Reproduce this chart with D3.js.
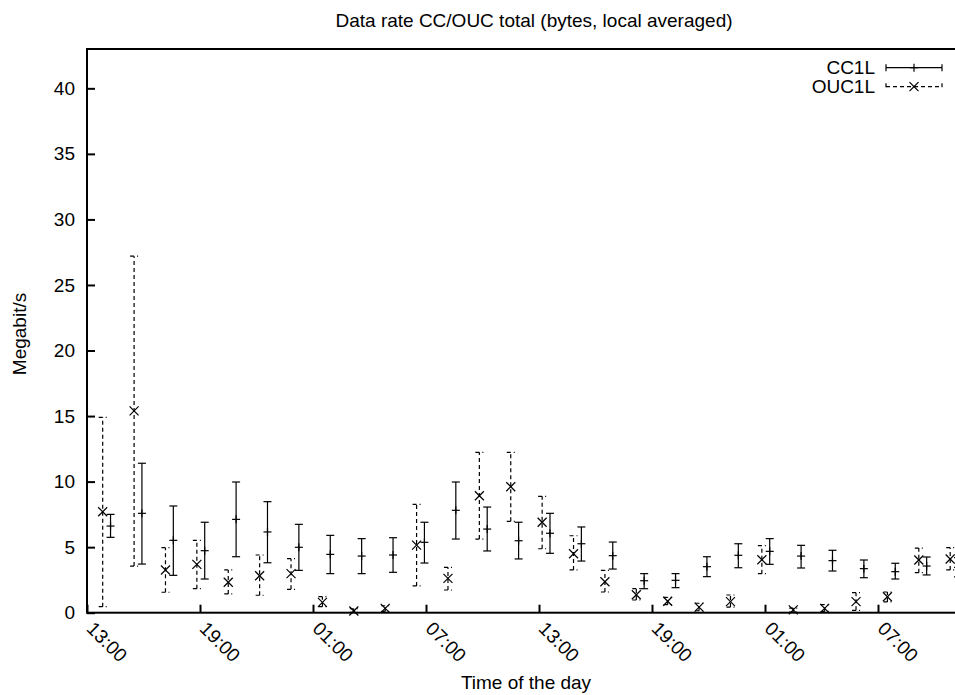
<!DOCTYPE html>
<html>
<head>
<meta charset="utf-8">
<script src="https://cdn.jsdelivr.net/npm/d3@7"></script>
<style>
  html, body { margin: 0; padding: 0; background: #fff; }
  svg { display: block; overflow: hidden; }
  text { font-family: "Liberation Sans", Arial, Helvetica, sans-serif; fill: #000; }
</style>
</head>
<body>
<svg id="chart" width="955" height="695"></svg>
<script>
// time stamps ("day hh:mm") of the samples
var oucTimes = ["01 13:50", "01 15:30", "01 17:10", "01 18:50", "01 20:30", "01 22:10", "01 23:50",
                "02 01:30", "02 03:10", "02 04:50", "02 06:30", "02 08:10", "02 09:50", "02 11:30",
                "02 13:10", "02 14:50", "02 16:30", "02 18:10", "02 19:50", "02 21:30", "02 23:10",
                "03 00:50", "03 02:30", "03 04:10", "03 05:50", "03 07:30", "03 09:10", "03 10:50"];
var ccTimes = ["01 14:15", "01 15:55", "01 17:35", "01 19:15", "01 20:55", "01 22:35", "02 00:15",
               "02 01:55", "02 03:35", "02 05:15", "02 06:55", "02 08:35", "02 10:15", "02 11:55",
               "02 13:35", "02 15:15", "02 16:55", "02 18:35", "02 20:15", "02 21:55", "02 23:35",
               "03 01:15", "03 02:55", "03 04:35", "03 06:15", "03 07:55", "03 09:35", "03 11:15"];

// OUC1L: mean, low, high (Megabit/s)
var oucMean = [7.70, 15.39, 3.26, 3.69, 2.32, 2.82, 2.98, 0.79, 0.13, 0.33, 5.16, 2.62, 8.92, 9.61,
               6.90, 4.50, 2.36, 1.37, 0.87, 0.43, 0.84, 4.04, 0.21, 0.33, 0.84, 1.22, 4.02, 4.10];
var oucLow  = [0.46, 3.56, 1.56, 1.83, 1.43, 1.33, 1.78, 0.46, 0.02, 0.10, 2.04, 1.73, 5.62, 6.97,
               4.88, 3.26, 1.58, 0.97, 0.61, 0.15, 0.43, 2.98, 0.05, 0.10, 0.18, 0.82, 3.05, 3.26];
var oucHigh = [14.9, 27.2, 4.96, 5.52, 3.26, 4.40, 4.12, 1.22, 0.30, 0.53, 8.27, 3.46, 12.23, 12.23,
               8.88, 5.87, 3.23, 1.83, 1.17, 0.72, 1.35, 5.11, 0.35, 0.61, 1.53, 1.58, 4.93, 4.96];

// CC1L: mean, low, high (Megabit/s)
var ccMean = [6.61, 7.58, 5.52, 4.73, 7.12, 6.16, 4.99, 4.45, 4.32, 4.40, 5.37, 7.81, 6.38, 5.49,
              6.06, 5.26, 4.35, 2.44, 2.47, 3.51, 4.38, 4.68, 4.32, 3.97, 3.36, 3.13, 3.56, 3.45];
var ccLow  = [5.75, 3.71, 2.85, 2.57, 4.27, 3.81, 3.23, 2.98, 2.98, 3.08, 3.79, 5.62, 4.71, 4.10,
              4.53, 3.94, 3.33, 1.83, 1.91, 2.75, 3.43, 3.69, 3.41, 3.18, 2.67, 2.57, 2.88, 2.73];
var ccHigh = [7.50, 11.4, 8.14, 6.90, 9.97, 8.47, 6.74, 5.90, 5.65, 5.72, 6.90, 9.97, 8.06, 6.90,
              7.58, 6.54, 5.39, 2.98, 2.98, 4.27, 5.26, 5.65, 5.14, 4.76, 4.02, 3.77, 4.25, 4.20];

var xTicks = ["01 13:00", "01 19:00", "02 01:00", "02 07:00", "02 13:00", "02 19:00", "03 01:00", "03 07:00"];
var xDomain = ["01 13:00", "03 13:00"];
var yTicks = [0, 5, 10, 15, 20, 25, 30, 35, 40];
var yMax = 43;

var parseT = d3.timeParse("%d %H:%M");

function series(times, mean, low, high) {
    var out = [];
    for (var i = 0; i < times.length; i++) {
        out.push({ t: parseT(times[i]), v: mean[i], lo: low[i], hi: high[i] });
    }
    return out;
}
var cc = series(ccTimes, ccMean, ccLow, ccHigh);
var ouc = series(oucTimes, oucMean, oucLow, oucHigh);

// Plot frame (the right part runs past the window, like the original)
var plotL = 87, plotT = 49, plotR = 991, plotB = 612.7;
var svg = d3.select("#chart");

var x = d3.scaleTime().domain(xDomain.map(parseT)).range([plotL, plotR]);
var y = d3.scaleLinear().domain([0, yMax]).range([plotB, plotT]);

// border
svg.append("rect")
    .attr("x", plotL).attr("y", plotT)
    .attr("width", plotR - plotL).attr("height", plotB - plotT)
    .attr("fill", "none").attr("stroke", "#000").attr("stroke-width", 2);

// Y axis (ticks inside)
var yAxis = svg.append("g")
    .attr("transform", "translate(" + plotL + ",0)")
    .call(d3.axisLeft(y).tickValues(yTicks).tickSizeInner(-8).tickSizeOuter(0).tickPadding(12));
yAxis.select(".domain").remove();
yAxis.selectAll(".tick line").attr("stroke", "#000").attr("stroke-width", 2);
yAxis.selectAll(".tick text").style("font-size", "19px").attr("font-family", null);

// X axis (ticks inside, labels rotated)
var xAxis = svg.append("g")
    .attr("transform", "translate(0," + plotB + ")")
    .call(d3.axisBottom(x).tickValues(xTicks.map(parseT)).tickFormat(d3.timeFormat("%H:%M"))
        .tickSizeInner(-8).tickSizeOuter(0));
xAxis.select(".domain").remove();
xAxis.selectAll(".tick line").attr("stroke", "#000").attr("stroke-width", 2);
xAxis.selectAll(".tick text")
    .style("font-size", "19px").attr("font-family", null)
    .attr("text-anchor", "start")
    .attr("y", 0).attr("dy", 0)
    .attr("transform", "translate(-2,17) rotate(45)");

// Error bars
function drawBars(data, dashed, marker) {
    var g = svg.append("g")
        .attr("stroke", "#000").attr("stroke-width", 1.2).attr("fill", "none");
    var cap = 4;
    data.forEach(function (d) {
        var cx = x(d.t);
        var pg = g.append("g");
        var ln = [
            [cx, y(d.lo), cx, y(d.hi)],
            [cx - cap, y(d.lo), cx + cap, y(d.lo)],
            [cx - cap, y(d.hi), cx + cap, y(d.hi)]
        ];
        ln.forEach(function (l) {
            pg.append("line")
                .attr("x1", l[0]).attr("y1", l[1]).attr("x2", l[2]).attr("y2", l[3])
                .attr("stroke-dasharray", dashed ? "4,3" : null);
        });
        marker(pg, cx, y(d.v));
    });
}
function plus(g, cx, cy) {
    var s = 4;
    g.append("line").attr("x1", cx - s).attr("x2", cx + s).attr("y1", cy).attr("y2", cy);
    g.append("line").attr("x1", cx).attr("x2", cx).attr("y1", cy - s).attr("y2", cy + s);
}
function cross(g, cx, cy) {
    var s = 4.5;
    g.append("line").attr("x1", cx - s).attr("x2", cx + s).attr("y1", cy - s).attr("y2", cy + s);
    g.append("line").attr("x1", cx - s).attr("x2", cx + s).attr("y1", cy + s).attr("y2", cy - s);
}
drawBars(cc, false, plus);
drawBars(ouc, true, cross);

// Title and axis labels
svg.append("text").attr("x", 534).attr("y", 27).attr("text-anchor", "middle")
    .style("font-size", "19px").text("Data rate CC/OUC total (bytes, local averaged)");
svg.append("text").attr("x", 526).attr("y", 689).attr("text-anchor", "middle")
    .style("font-size", "19px").text("Time of the day");
svg.append("text").attr("transform", "translate(26,334) rotate(-90)").attr("text-anchor", "middle")
    .style("font-size", "19px").text("Megabit/s");

// Legend
var legend = [
    { name: "CC1L", dashed: false, marker: plus },
    { name: "OUC1L", dashed: true, marker: cross }
];
legend.forEach(function (l, i) {
    var ly = 67.7 + i * 19;
    svg.append("text").attr("x", 875).attr("y", ly + 6).attr("text-anchor", "end")
        .style("font-size", "19px").text(l.name);
    var g = svg.append("g").attr("stroke", "#000").attr("stroke-width", 1.2);
    var segs = [[886, ly, 942, ly], [886, ly - 3.5, 886, ly + 3.5], [942, ly - 3.5, 942, ly + 3.5]];
    segs.forEach(function (s) {
        g.append("line").attr("x1", s[0]).attr("y1", s[1]).attr("x2", s[2]).attr("y2", s[3])
            .attr("stroke-dasharray", l.dashed ? "4,3" : null);
    });
    l.marker(g, 914, ly);
});
</script>
</body>
</html>
